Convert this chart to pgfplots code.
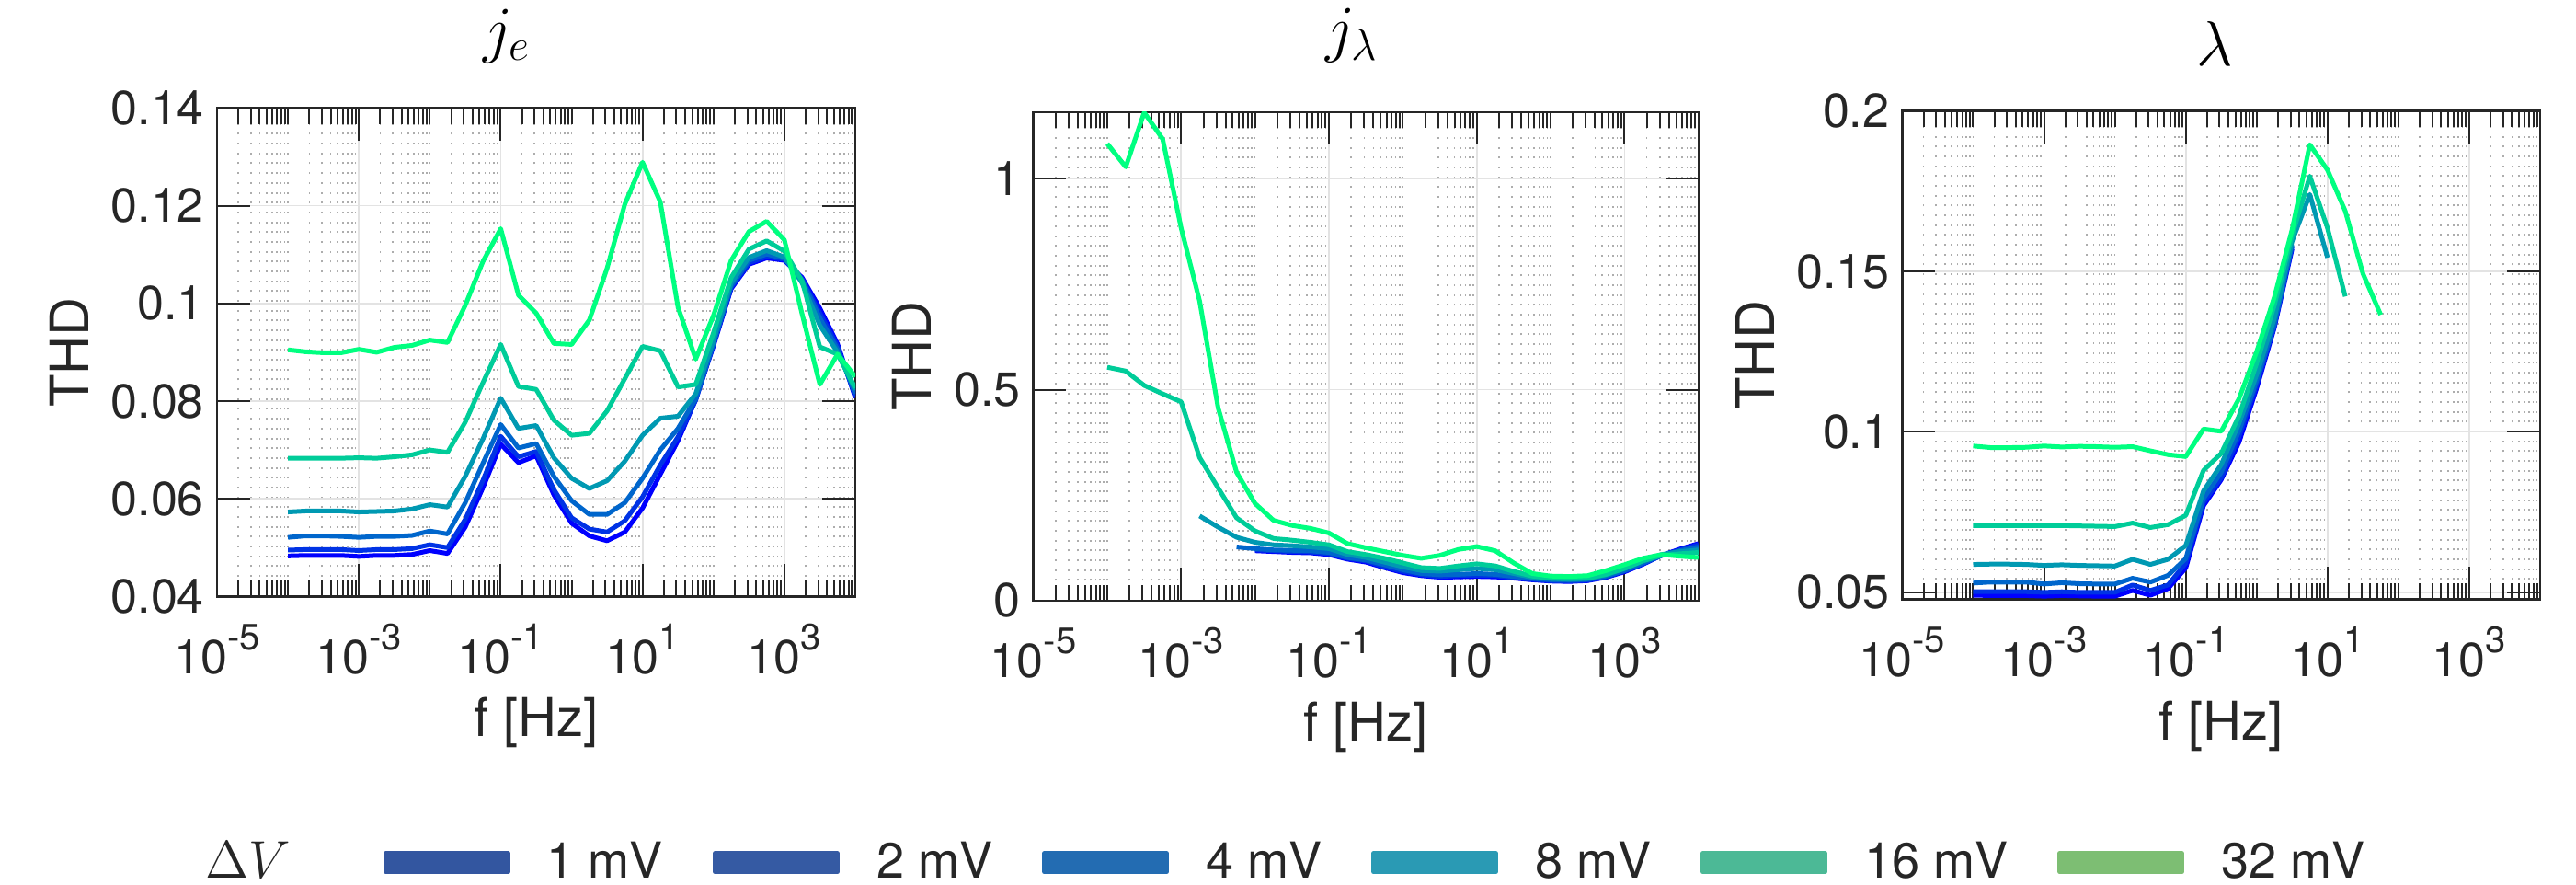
\documentclass[border=0pt]{standalone}
\usepackage{fontspec}
\setmainfont{TeX Gyre Heros}
\usepackage{pgfplots}
\pgfplotsset{compat=1.18}
\usepackage{pgfplotstable}

\definecolor{c1}{rgb}{0,0,1}
\definecolor{c2}{rgb}{0,0.2,0.9}
\definecolor{c4}{rgb}{0,0.4,0.8}
\definecolor{c8}{rgb}{0,0.6,0.7}
\definecolor{c16}{rgb}{0,0.8,0.6}
\definecolor{c32}{rgb}{0,1,0.5}
\definecolor{l1}{RGB}{51,86,160}
\definecolor{l2}{RGB}{53,90,163}
\definecolor{l4}{RGB}{35,108,178}
\definecolor{l8}{RGB}{42,154,180}
\definecolor{l16}{RGB}{76,185,150}
\definecolor{l32}{RGB}{125,190,115}
\definecolor{axc}{RGB}{38,38,38}

\newcommand\ex[1]{10\raisebox{0.5em}{\fontsize{10}{11}\selectfont #1}}
\newcommand\lt[1]{\hspace*{10pt}#1\hspace*{13.5pt}}

% panel j_e
\pgfplotstableread{
f a1 a2 a4 a8 a16 a32
1e-4 0.0483 0.0495 0.0521 0.0573 0.0683 0.0905
1.7783e-4 0.0484 0.0496 0.0524 0.0575 0.0683 0.0901
3.1623e-4 0.0484 0.0496 0.0524 0.0575 0.0683 0.0899
5.6234e-4 0.0484 0.0496 0.0523 0.0575 0.0683 0.0899
1e-3 0.0482 0.0494 0.0521 0.0573 0.0684 0.0906
1.7783e-3 0.0484 0.0496 0.0523 0.0574 0.0683 0.0900
3.1623e-3 0.0484 0.0496 0.0523 0.0575 0.0686 0.0910
5.6234e-3 0.0486 0.0498 0.0525 0.0579 0.0690 0.0914
1e-2 0.0494 0.0506 0.0534 0.0588 0.0700 0.0925
1.7783e-2 0.0488 0.0500 0.0528 0.0583 0.0695 0.0920
3.1623e-2 0.0542 0.0558 0.0592 0.0646 0.0757 0.0996
5.6234e-2 0.0623 0.0638 0.0673 0.0723 0.0838 0.1086
0.1 0.0712 0.0728 0.0752 0.0806 0.0916 0.1153
0.17783 0.0674 0.0686 0.0704 0.0744 0.0830 0.1017
0.31623 0.0688 0.0697 0.0713 0.0750 0.0824 0.0980
0.56234 0.0608 0.0619 0.0646 0.0684 0.0761 0.0918
1 0.0550 0.0561 0.0596 0.0642 0.0730 0.0916
1.7783 0.0524 0.0538 0.0568 0.0621 0.0734 0.0966
3.1623 0.0514 0.0532 0.0568 0.0637 0.0780 0.1072
5.6234 0.0532 0.0555 0.0592 0.0677 0.0846 0.1203
10 0.0581 0.0604 0.0642 0.0730 0.0912 0.1289
17.783 0.0650 0.0669 0.0700 0.0765 0.0903 0.1208
31.623 0.0719 0.0727 0.0744 0.0769 0.0829 0.0992
56.234 0.0803 0.0802 0.0805 0.0815 0.0834 0.0886
100 0.0913 0.0916 0.0918 0.0925 0.0940 0.0975
177.83 0.1030 0.1033 0.1036 0.1042 0.1053 0.1088
316.23 0.1080 0.1083 0.1088 0.1094 0.1111 0.1147
562.34 0.1093 0.1096 0.1101 0.1108 0.1128 0.1168
1000 0.1088 0.1090 0.1092 0.1095 0.1107 0.1130
1778.3 0.1053 0.1050 0.1048 0.1042 0.1046 0.0978
3162.3 0.0990 0.0980 0.0970 0.0955 0.0911 0.0834
5623.4 0.0917 0.0912 0.0906 0.0900 0.0896 0.0896
10000 0.0807 0.0810 0.0815 0.0823 0.0827 0.0850
}\tA

% panel j_lambda
\pgfplotstableread{
f a1 a2 a4 a8 a16 a32
1e-4 nan nan nan nan 0.553 1.083
1.7783e-4 nan nan nan nan 0.544 1.028
3.1623e-4 nan nan nan nan 0.510 1.157
5.6234e-4 nan nan nan nan 0.490 1.094
1e-3 nan nan nan nan 0.471 0.883
1.7783e-3 nan nan nan 0.2005 0.339 0.710
3.1623e-3 nan nan nan 0.174 0.267 0.457
5.6234e-3 nan nan 0.127 0.150 0.196 0.304
1e-2 0.118 0.120 0.123 0.138 0.165 0.230
1.7783e-2 0.116 0.118 0.120 0.132 0.147 0.190
3.1623e-2 0.114 0.116 0.119 0.130 0.143 0.178
5.6234e-2 0.113 0.115 0.118 0.127 0.138 0.171
0.1 0.109 0.111 0.114 0.123 0.132 0.160
0.17783 0.098 0.100 0.102 0.109 0.116 0.135
0.31623 0.091 0.094 0.096 0.102 0.109 0.125
0.56234 0.078 0.080 0.085 0.091 0.100 0.116
1 0.066 0.069 0.073 0.080 0.089 0.107
1.7783 0.059 0.061 0.064 0.071 0.078 0.100
3.1623 0.055 0.057 0.061 0.0695 0.076 0.107
5.6234 0.056 0.059 0.062 0.073 0.082 0.121
10 0.057 0.060 0.064 0.076 0.087 0.128
17.783 0.056 0.059 0.062 0.073 0.082 0.118
31.623 0.053 0.054 0.057 0.064 0.069 0.089
56.234 0.049 0.050 0.052 0.055 0.058 0.064
100 0.046 0.047 0.049 0.052 0.053 0.058
177.83 0.045 0.046 0.048 0.050 0.052 0.057
316.23 0.047 0.048 0.050 0.052 0.053 0.059
562.34 0.055 0.056 0.058 0.061 0.062 0.071
1000 0.068 0.070 0.071 0.076 0.076 0.085
1778.3 0.086 0.087 0.089 0.094 0.094 0.100
3162.3 0.107 0.107 0.107 0.109 0.107 0.109
5623.4 0.122 0.120 0.118 0.116 0.111 0.105
10000 0.135 0.132 0.127 0.120 0.114 0.102
}\tB

% panel lambda
\pgfplotstableread{
f a1 a2 a4 a8 a16 a32
1e-4 0.0491 0.0502 0.0529 0.0587 0.0708 0.0956
1.7783e-4 0.0490 0.0502 0.0532 0.0588 0.0708 0.0951
3.1623e-4 0.0490 0.0502 0.0532 0.0588 0.0708 0.0951
5.6234e-4 0.0490 0.0502 0.0532 0.0587 0.0708 0.0952
1e-3 0.0488 0.0500 0.0526 0.0584 0.0708 0.0956
1.7783e-3 0.0490 0.0502 0.0530 0.0586 0.0708 0.0953
3.1623e-3 0.0489 0.0500 0.0527 0.0584 0.0707 0.0955
5.6234e-3 0.0488 0.0500 0.0526 0.0583 0.0706 0.0954
1e-2 0.0488 0.0500 0.0526 0.0582 0.0705 0.0952
1.7783e-2 0.0506 0.0523 0.0544 0.0603 0.0716 0.0954
3.1623e-2 0.0491 0.0506 0.0532 0.0587 0.0702 0.0941
5.6234e-2 0.0512 0.0523 0.0553 0.0603 0.0711 0.0929
0.1 0.0576 0.0591 0.0605 0.0646 0.0740 0.0923
0.17783 0.0770 0.0780 0.0792 0.0816 0.0880 0.1009
0.31623 0.0851 0.0857 0.0874 0.0898 0.0933 0.1002
0.56234 0.0967 0.0985 0.1002 0.1026 0.1049 0.1103
1 0.1136 0.1148 0.1160 0.1178 0.1214 0.1250
1.7783 0.1325 0.1330 0.1336 0.1354 0.1395 0.1420
3.1623 0.1570 0.1576 0.1583 0.1594 0.1612 0.1630
5.6234 nan nan nan 0.1740 0.1797 0.1895
10 nan nan nan 0.1543 0.1635 0.1816
17.783 nan nan nan nan 0.1422 0.1688
31.623 nan nan nan nan nan 0.1493
56.234 nan nan nan nan nan 0.1365
}\tC

\pgfplotsset{
  every axis/.append style={
    scale only axis,
    xmin=1e-5, xmax=1e4,
    xtick={1e-5,1e-3,1e-1,1e1,1e3},
    xticklabels={\ex{-5},\ex{-3},\ex{-1},\ex{1},\ex{3}},
    minor xtick={2e-5,3e-5,4e-5,5e-5,6e-5,7e-5,8e-5,9e-5,
      1e-4,2e-4,3e-4,4e-4,5e-4,6e-4,7e-4,8e-4,9e-4,
      2e-3,3e-3,4e-3,5e-3,6e-3,7e-3,8e-3,9e-3,
      1e-2,2e-2,3e-2,4e-2,5e-2,6e-2,7e-2,8e-2,9e-2,
      0.2,0.3,0.4,0.5,0.6,0.7,0.8,0.9,
      1,2,3,4,5,6,7,8,9,
      20,30,40,50,60,70,80,90,
      100,200,300,400,500,600,700,800,900,
      2000,3000,4000,5000,6000,7000,8000,9000},
    xmajorgrids=true, xminorgrids=true, ymajorgrids=true,
    major grid style={color=black!11, line width=0.45pt},
    minor grid style={color=black!32, line width=0.4pt, dash pattern=on 0.5pt off 2.17pt},
    tick align=inside,
    major tick length=8.9pt, minor tick length=4.3pt,
    axis line style={color=axc, line width=0.6pt},
    tick style={color=axc, line width=0.5pt},
    tick label style={font=\fontsize{13}{15}\selectfont, text=axc},
    xticklabel style={anchor=base, yshift=-21pt},
    label style={font=\fontsize{14.5}{17}\selectfont, text=axc},
    xlabel={f [Hz]}, ylabel={THD},
    xlabel style={at={(axis description cs:0.5,0)}, anchor=base, yshift=-38.1pt},
    title style={font=\fontsize{17}{20}\selectfont, anchor=south, inner sep=0pt},
    height=132.75pt,
  },
  every axis plot/.append style={line width=1.25pt, line join=round},
  legend image code/.code={\fill[#1] (0pt,-2.5pt) rectangle (33.25pt,2.5pt);},
}

\begin{document}
\begin{tikzpicture}
\useasboundingbox (0,0) rectangle (700.25pt,240.5pt);

% ---- panel 1: j_e
\begin{semilogxaxis}[
  at={(59pt,78.4pt)}, anchor=south west, width=173.5pt,
  ymin=0.04, ymax=0.14,
  ytick={0.04,0.06,0.08,0.1,0.12,0.14},
  yticklabels={0.04,0.06,0.08,0.1,0.12,0.14},
  title={$j_e$},
  title style={at={(axis description cs:0.454,1)}, yshift=5.9pt},
  ylabel style={at={(axis description cs:-0.232,0.5)}, anchor=center},
  legend columns=-1,
  legend style={at={(axis description cs:-0.0173,-0.545)}, anchor=west,
    draw=none, fill=none, inner sep=0pt, outer sep=0pt,
    /tikz/column sep=0pt,
    nodes={inner sep=0pt, outer sep=0pt},
    font=\fontsize{13.5}{16}\selectfont, text=axc},
]
\addplot[c1, forget plot] table[x=f, y=a1] {\tA};
\addplot[c2, forget plot] table[x=f, y=a2] {\tA};
\addplot[c4, forget plot] table[x=f, y=a4] {\tA};
\addplot[c8, forget plot] table[x=f, y=a8] {\tA};
\addplot[c16, forget plot] table[x=f, y=a16] {\tA};
\addplot[c32, forget plot] table[x=f, y=a32] {\tA};
\addlegendimage{empty legend}
\addlegendentry{\makebox[48.25pt][l]{\fontsize{15}{17}\selectfont$\Delta V$}}
\addlegendimage{l1}\addlegendentry{\lt{1 mV}}
\addlegendimage{l2}\addlegendentry{\lt{2 mV}}
\addlegendimage{l4}\addlegendentry{\lt{4 mV}}
\addlegendimage{l8}\addlegendentry{\lt{8 mV}}
\addlegendimage{l16}\addlegendentry{\lt{16 mV}}
\addlegendimage{l32}\addlegendentry{\lt{32 mV}}
\end{semilogxaxis}

% ---- panel 2: j_lambda
\begin{semilogxaxis}[
  at={(280.9pt,77.3pt)}, anchor=south west, width=180.8pt,
  ymin=0, ymax=1.158,
  ytick={0,0.5,1},
  yticklabels={0,0.5,1},
  title={$j_\lambda$},
  title style={at={(axis description cs:0.479,1)}, yshift=7.2pt},
  ylabel style={at={(axis description cs:-0.1826,0.5)}, anchor=center},
]
\addplot[c1] table[x=f, y=a1] {\tB};
\addplot[c2] table[x=f, y=a2] {\tB};
\addplot[c4] table[x=f, y=a4] {\tB};
\addplot[c8] table[x=f, y=a8] {\tB};
\addplot[c16] table[x=f, y=a16] {\tB};
\addplot[c32] table[x=f, y=a32] {\tB};
\end{semilogxaxis}

% ---- panel 3: lambda
\begin{semilogxaxis}[
  at={(517.1pt,77.6pt)}, anchor=south west, width=173.4pt,
  ymin=0.0478, ymax=0.2,
  ytick={0.05,0.1,0.15,0.2},
  yticklabels={0.05,0.1,0.15,0.2},
  title={$\lambda$},
  title style={at={(axis description cs:0.49,1)}, yshift=6pt},
  ylabel style={at={(axis description cs:-0.2307,0.5)}, anchor=center},
]
\addplot[c1] table[x=f, y=a1] {\tC};
\addplot[c2] table[x=f, y=a2] {\tC};
\addplot[c4] table[x=f, y=a4] {\tC};
\addplot[c8] table[x=f, y=a8] {\tC};
\addplot[c16] table[x=f, y=a16] {\tC};
\addplot[c32] table[x=f, y=a32] {\tC};
\end{semilogxaxis}
\end{tikzpicture}
\end{document}
